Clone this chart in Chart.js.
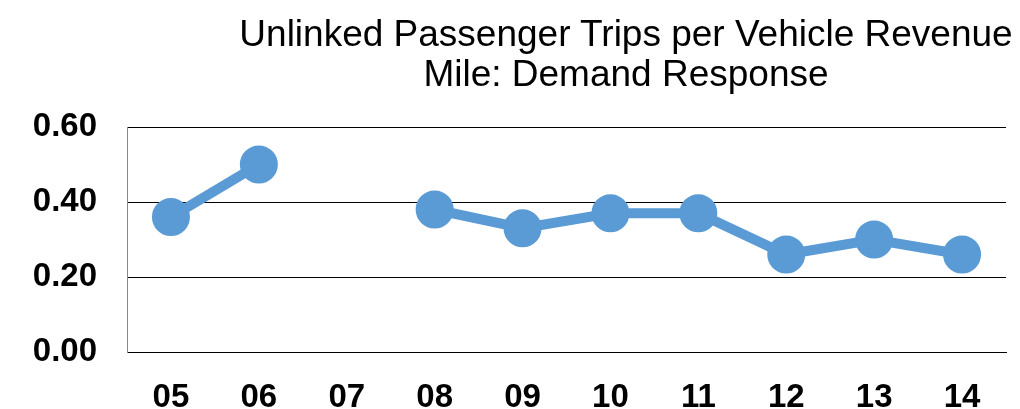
<!DOCTYPE html>
<html>
<head>
<meta charset="utf-8">
<script src="https://cdn.jsdelivr.net/npm/chart.js@4.4.1/dist/chart.umd.min.js"></script>
<style>
  html, body { margin: 0; padding: 0; background: #fff; }
  #wrap { position: relative; width: 1020px; height: 409px; }
  #title {
    position: absolute; left: 226px; width: 800px; top: 14px;
    text-align: center; font-family: "Liberation Sans", Arial, sans-serif;
    font-size: 37px; line-height: 40px; color: #000;
  }
</style>
</head>
<body>
<div id="wrap">
  <canvas id="chart" width="1020" height="409"></canvas>
  <div id="title">Unlinked Passenger Trips per Vehicle Revenue<br>Mile: Demand Response</div>
</div>
<script>
const years = ['05', '06', '07', '08', '09', '10', '11', '12', '13', '14'];
const tripsPerMile = [0.36, 0.50, null, 0.38, 0.33, 0.37, 0.37, 0.26, 0.30, 0.26];
const yTicks = [0, 0.2, 0.4, 0.6];

const tickFont = { family: '"Liberation Sans", Arial, sans-serif', size: 33, weight: 'bold' };

new Chart(document.getElementById('chart'), {
  type: 'line',
  data: {
    labels: years,
    datasets: [{
      data: tripsPerMile,
      borderColor: '#5B9BD5',
      backgroundColor: '#5B9BD5',
      borderWidth: 10,
      pointRadius: 14,
      pointHoverRadius: 14,
      spanGaps: false,
      tension: 0,
    }],
  },
  options: {
    responsive: false,
    animation: false,
    layout: { autoPadding: false, padding: { top: 127, right: 14, left: 0, bottom: 0 } },
    plugins: {
      legend: { display: false },
      tooltip: { enabled: false },
    },
    scales: {
      x: {
        offset: true,
        grid: { display: false },
        border: { display: true, color: '#000', width: 1 },
        ticks: { color: '#000', font: tickFont, padding: 18, maxRotation: 0 },
        afterFit: (scale) => {
          scale.height = 57;
          scale.paddingLeft = 0;
          scale.paddingRight = 0;
        },
      },
      y: {
        min: 0,
        max: 0.6,
        afterBuildTicks: (scale) => { scale.ticks = yTicks.map(v => ({ value: v })); },
        grid: { color: '#000', lineWidth: 1, drawTicks: false },
        border: { display: true, color: '#888', width: 1 },
        ticks: {
          color: '#000', font: tickFont, padding: 30,
          callback: (v) => v.toFixed(2),
        },
        afterFit: (scale) => { scale.width = 127; },
      },
    },
  },
});
</script>
</body>
</html>
